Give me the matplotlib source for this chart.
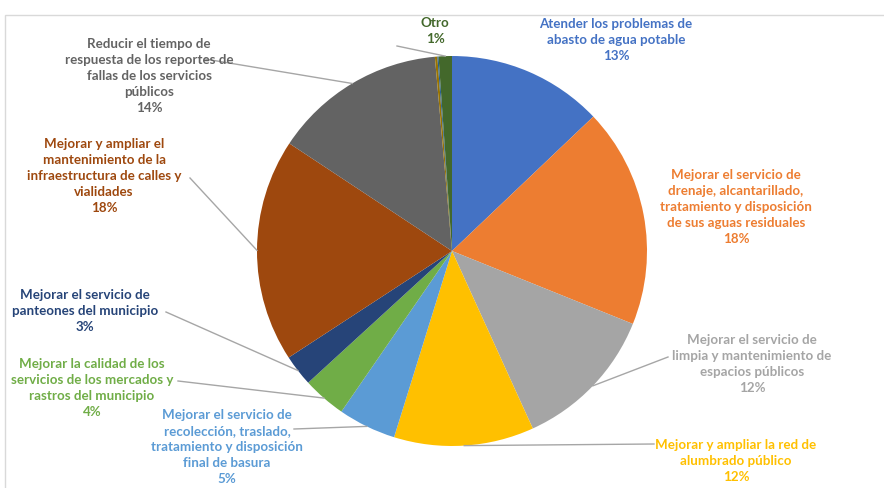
import numpy as np
import matplotlib.pyplot as plt
from matplotlib.patches import Rectangle

# --- data ---
categories = [
    "Atender los problemas de\nabasto de agua potable",
    "Mejorar el servicio de\ndrenaje, alcantarillado,\ntratamiento y disposición\nde sus aguas residuales",
    "Mejorar el servicio de\nlimpia y mantenimiento de\nespacios públicos",
    "Mejorar y ampliar la red de\nalumbrado público",
    "Mejorar el servicio de\nrecolección, traslado,\ntratamiento y disposición\nfinal de basura",
    "Mejorar la calidad de los\nservicios de los mercados y\nrastros del municipio",
    "Mejorar el servicio de\npanteones del municipio",
    "Mejorar y ampliar el\nmantenimiento de la\ninfraestructura de calles y\nvialidades",
    "Reducir el tiempo de\nrespuesta de los reportes de\nfallas de los servicios\npúblicos",
    "",
    "",
    "Otro",
]
values = [12.9, 18.2, 12.1, 11.6, 4.8, 3.6, 2.6, 18.5, 14.3, 0.2, 0.1, 1.1]
pct_labels = ["13%", "18%", "12%", "12%", "5%", "4%", "3%", "18%", "14%", "", "", "1%"]
colors = ["#4472C4", "#ED7D31", "#A5A5A5", "#FFC000", "#5B9BD5", "#70AD47",
          "#264478", "#9E480E", "#636363", "#997300", "#255E91", "#43682B"]

W, H = 884, 489
CX, CY, R = 452, 252, 195  # pie centre / radius in image pixels


def py(y):
    # image y (down) -> axes y (up)
    return H - y


# label block centre (image px) and leader start (None = no leader)
label_pos = [
    (616, 40, None),
    (736, 207, None),
    (752, 364, (668, 358)),
    (736, 461, (654, 445)),
    (227, 447, (294, 430)),
    (92, 388, (178, 382)),
    (85, 311, (166, 313)),
    (104, 176, (190, 179)),
    (149, 76, (205, 60)),
    None,
    None,
    (435, 31, (397, 47)),
]

fig = plt.figure(figsize=(W / 100, H / 100), dpi=100)
ax = fig.add_axes([0, 0, 1, 1])

# chart frame
ax.add_patch(Rectangle((5, -10), W, py(16) + 10, fill=False, edgecolor="#D9D9D9", lw=1))

wedges, _ = ax.pie(values, colors=colors, startangle=90, counterclock=False,
                   center=(CX, py(CY)), radius=R, frame=True,
                   wedgeprops=dict(linewidth=0))
ax.set_xlim(0, W)
ax.set_ylim(0, H)
ax.set_aspect("equal")
ax.axis("off")

for w, cat, pct, col, pos in zip(wedges, categories, pct_labels, colors, label_pos):
    if pos is None:
        continue
    x, y, lead = pos
    txt = cat + "\n" + pct
    ax.text(x, py(y), txt, ha="center", va="center", color=col,
            fontsize=9.6, fontweight="bold", family="Lato", linespacing=1.38)
    if lead is not None:
        mid = np.deg2rad((w.theta1 + w.theta2) / 2)
        ex = CX + R * np.cos(mid)
        ey = py(CY) + R * np.sin(mid)
        ax.plot([lead[0], ex], [py(lead[1]), ey], color="#A6A6A6", lw=1)

fig.savefig("out.png", dpi=100)
